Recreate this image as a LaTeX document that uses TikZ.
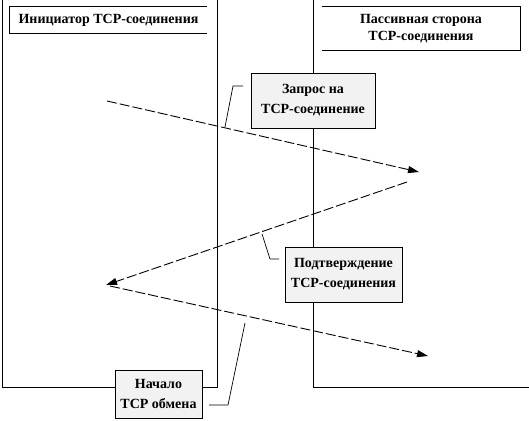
\documentclass[tikz,border=0pt]{standalone}
\usepackage{fontspec}
\setmainfont{Liberation Serif}
\usetikzlibrary{arrows.meta}

\begin{document}
\begin{tikzpicture}[x=1pt, y=-1pt, line width=0.9pt]
\tikzstyle{header}=[rectangle, inner sep=0pt, align=center, font=\bfseries\fontsize{14}{17}\selectfont]
\tikzstyle{note}=[rectangle, draw=black, fill=black!5, inner sep=0pt, align=center, font=\bfseries\fontsize{14}{20}\selectfont]
\tikzstyle{msg}=[dash pattern=on 10pt off 3pt, -{Triangle[length=11pt, width=7pt]}]
\tikzstyle{lead}=[line width=0.7pt]

\useasboundingbox (0,0) rectangle (529,420);

% lanes
\draw (2,0) -- (2,387) -- (217,387) -- (217,0);
\draw (313,0) -- (313,387) -- (529,387);

% headers
\node[header, minimum width=197pt, minimum height=26pt] (Init) at (108.5,20) {Инициатор TCP-соединения};
\draw (Init.north east) -- (Init.north west) -- (Init.south west) -- (Init.south east);
\node[header, minimum width=198pt, minimum height=43pt] (Pass) at (421,28.5) {Пассивная сторона\\TCP-соединения};
\draw (Pass.north west) -- (Pass.north east) -- (Pass.south east) -- (Pass.south west);

% messages
\coordinate (M0) at (107,101);
\coordinate (M1) at (419,172);
\coordinate (M2) at (407,182);
\coordinate (M3) at (106,285);
\coordinate (M4) at (110,286);
\coordinate (M5) at (428,356);
\draw[msg] (M0) -- (M1);
\draw[msg] (M2) -- (M3);
\draw[msg] (M4) -- (M5);

% notes
\node[note, minimum width=124pt, minimum height=55pt] (Req) at (313,100.5) {Запрос на\\TCP-соединение};
\node[note, minimum width=117pt, minimum height=55pt] (Ack) at (343.5,274.5) {Подтверждение\\TCP-соединения};
\node[note, minimum width=87pt, minimum height=48pt] (Start) at (158.5,394) {Начало\\TCP обмена};

% leaders
\coordinate (R0) at (243,86);
\coordinate (R1) at (233,86);
\coordinate (R2) at (225,127);
\draw[lead] (R0) -- (R1) -- (R2);
\coordinate (K0) at (279,259);
\coordinate (K1) at (270,259);
\coordinate (K2) at (262,234);
\draw[lead] (K0) -- (K1) -- (K2);
\coordinate (S0) at (209,405);
\coordinate (S1) at (228,405);
\coordinate (S2) at (245,323);
\draw[lead] (S0) -- (S1) -- (S2);
\end{tikzpicture}
\end{document}
